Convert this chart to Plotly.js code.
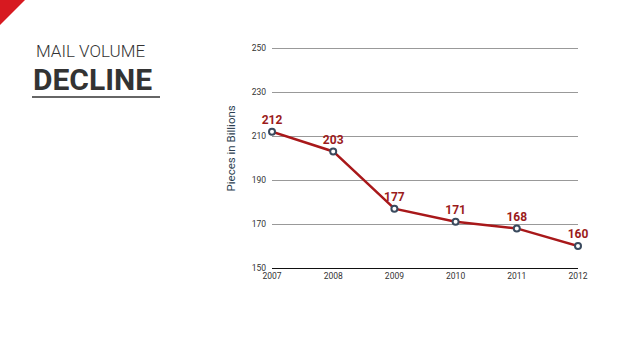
<!DOCTYPE html>
<html>
<head>
<meta charset="utf-8">
<script src="https://cdn.plot.ly/plotly-3.0.1.min.js"></script>
<style>
html,body{margin:0;padding:0;background:#fff;}
#chart{width:638px;height:359px;}
</style>
</head>
<body>
<div id="chart"></div>
<script>
const years = [2007, 2008, 2009, 2010, 2011, 2012];
const volumes = [212, 203, 177, 171, 168, 160];
const volumeLabels = ['212', '203', '177', '171', '168', '160'];
const yTicks = [150, 170, 190, 210, 230, 250];
const yTitle = 'Pieces in Billions';

// pixel -> paper helpers (plot area: x 272..578, y 47..268)
const L = 272, R = 578, T = 47, B = 268;
const px = x => (x - L) / (R - L);
const py = y => (B - y) / (B - T);

const trace = {
  x: years,
  y: volumes,
  text: volumeLabels,
  mode: 'lines+markers+text',
  textposition: 'top center',
  textfont: {family: 'Roboto, sans-serif', size: 12, color: '#9b1b1b', weight: 'bold'},
  line: {color: '#a8181a', width: 2.5},
  marker: {size: 6, color: '#ffffff', line: {color: '#3a4a5e', width: 2}},
  cliponaxis: false,
  hoverinfo: 'skip'
};

const layout = {
  width: 638, height: 359,
  margin: {l: L, r: 638 - R, t: T, b: 359 - B, pad: 0},
  paper_bgcolor: '#ffffff', plot_bgcolor: '#ffffff',
  showlegend: false,
  font: {family: 'Roboto, sans-serif', color: '#333'},
  xaxis: {
    range: [2007, 2012], tickvals: years, ticktext: years.map(String),
    showgrid: false, zeroline: false,
    showline: true, linecolor: '#111', linewidth: 1,
    tickfont: {size: 8.5, color: '#333'}, ticks: '', ticklabelstandoff: 0
  },
  yaxis: {
    range: [150, 250.5], tickvals: yTicks,
    showgrid: true, gridcolor: '#999', gridwidth: 1,
    zeroline: false, showline: false, ticks: '',
    tickfont: {size: 8.5, color: '#333'}, ticklabelstandoff: 5
  },
  shapes: [
    {type: 'path', xref: 'paper', yref: 'paper',
     path: `M ${px(0)},${py(0)} L ${px(25)},${py(0)} L ${px(0)},${py(25)} Z`,
     fillcolor: '#d71920', line: {width: 0}},
    {type: 'line', xref: 'paper', yref: 'paper',
     x0: px(32), x1: px(160), y0: py(97), y1: py(97),
     line: {color: '#333', width: 1.5}}
  ],
  annotations: [
    {xref: 'paper', yref: 'paper', x: px(34), y: py(51), xanchor: 'left', yanchor: 'middle',
     text: 'MAIL VOLUME', showarrow: false,
     font: {family: 'Roboto, sans-serif', size: 17, color: '#333', weight: 300}},
    {xref: 'paper', yref: 'paper', x: px(31), y: py(79), xanchor: 'left', yanchor: 'middle',
     text: 'DECLINE', showarrow: false,
     font: {family: 'Roboto, sans-serif', size: 30, color: '#333', weight: 'bold'}},
    {xref: 'paper', yref: 'paper', x: px(230), y: py(148.5), xanchor: 'center', yanchor: 'middle',
     text: yTitle, textangle: -90, showarrow: false,
     font: {family: 'Roboto, sans-serif', size: 11.5, color: '#2c3e50'}}
  ]
};

Plotly.newPlot('chart', [trace], layout, {displayModeBar: false, staticPlot: true});
</script>
</body>
</html>
